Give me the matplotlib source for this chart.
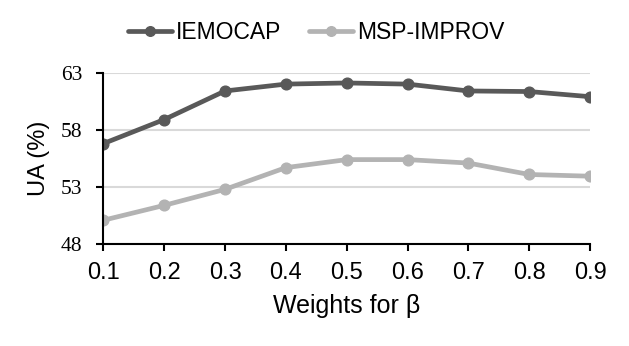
import matplotlib
matplotlib.use('Agg')
import matplotlib.pyplot as plt

weights = [0.1, 0.2, 0.3, 0.4, 0.5, 0.6, 0.7, 0.8, 0.9]
iemocap = [56.8, 58.9, 61.4, 62.0, 62.1, 62.0, 61.4, 61.35, 60.9]
msp_improv = [50.1, 51.4, 52.8, 54.7, 55.4, 55.4, 55.1, 54.1, 53.95]
yticks = [48, 53, 58, 63]

fig = plt.figure(figsize=(6.29, 3.46), dpi=100)
ax = fig.add_axes([0.1643, 0.294, 0.7737, 0.496])

ax.plot(weights, iemocap, color='#595959', lw=3.4, marker='o', ms=7.7,
        label='IEMOCAP', solid_capstyle='round')
ax.plot(weights, msp_improv, color='#b3b3b3', lw=3.4, marker='o', ms=7.7,
        label='MSP-IMPROV', solid_capstyle='round')

ax.set_xlim(0.1, 0.9)
ax.set_ylim(48, 63)
ax.set_xticks(weights)
ax.set_xticklabels(['%.1f' % w for w in weights], family='Liberation Sans', fontsize=17)
ax.set_yticks(yticks)
ax.set_yticklabels([str(y) for y in yticks], family='Liberation Serif', fontsize=15.5)
ax.grid(axis='y', color='#d9d9d9', lw=1.5)
ax.set_axisbelow(True)

for s in ['top', 'right']:
    ax.spines[s].set_visible(False)
for s in ['left', 'bottom']:
    ax.spines[s].set_linewidth(1.5)
    ax.spines[s].set_color('black')
ax.tick_params(axis='both', direction='out', length=5, width=1.5)
ax.tick_params(axis='x', pad=8)
ax.tick_params(axis='y', pad=10)

ax.set_xlabel('Weights for β', family='Liberation Sans', fontsize=18, labelpad=7)
ax.set_ylabel('UA (%)', family='Liberation Sans', fontsize=17, labelpad=8)

fig.legend(loc='center', bbox_to_anchor=(0.503, 0.907), ncol=2, frameon=False,
           prop={'family': 'Liberation Sans', 'size': 16.5}, handlelength=1.9,
           handletextpad=0.2, columnspacing=1.2, markerscale=0.9)

plt.savefig('out.png')
